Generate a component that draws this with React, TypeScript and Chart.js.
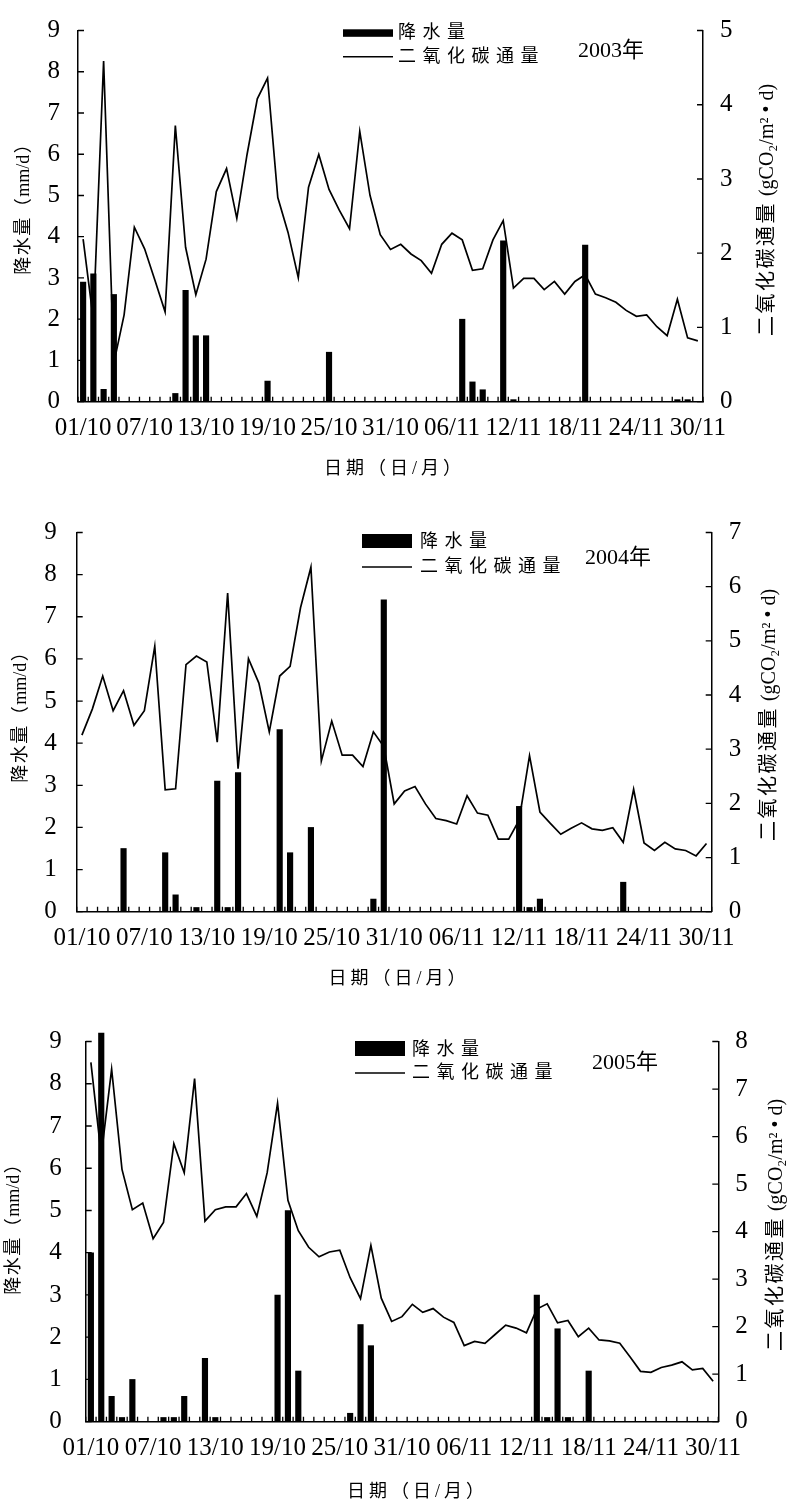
import React, { useEffect, useRef } from 'react';
import { Chart, registerables } from 'chart.js';

Chart.register(...registerables);

// ---------- categories ----------
const DAYS: string[] = [];
for (let d = 1; d <= 31; d++) DAYS.push(`${String(d).padStart(2, '0')}/10`);
for (let d = 1; d <= 30; d++) DAYS.push(`${String(d).padStart(2, '0')}/11`);

const TICK_LABELS = ['01/10', '07/10', '13/10', '19/10', '25/10', '31/10', '06/11', '12/11', '18/11', '24/11', '30/11'];

const RAIN_LABEL = '降水量';
const CO2_LABEL = '二氧化碳通量';
const X_TITLE = '日期（日/月）';
const Y_LEFT_TITLE = '降水量（mm/d）';
const Y_RIGHT_TITLE = '二氧化碳通量 (gCO₂/m² • d)';

// ---------- 2003 ----------
const RAIN_2003 = [
  2.9, 3.1, 0.3, 2.6, 0, 0, 0, 0, 0, 0.2,
  2.7, 1.6, 1.6, 0, 0, 0, 0, 0, 0.5, 0,
  0, 0, 0, 0, 1.2, 0, 0, 0, 0, 0,
  0, 0, 0, 0, 0, 0, 0, 2.0, 0.48, 0.29,
  0, 3.9, 0.05, 0, 0, 0, 0, 0, 0, 3.8,
  0, 0, 0, 0, 0, 0, 0, 0, 0.05, 0.05,
  0,
];
const CO2_2003 = [
  2.19, 1.1, 4.59, 0.52, 1.17, 2.35, 2.06, 1.64, 1.21, 3.72,
  2.08, 1.44, 1.92, 2.83, 3.14, 2.47, 3.33, 4.08, 4.36, 2.75,
  2.28, 1.67, 2.89, 3.33, 2.86, 2.58, 2.33, 3.64, 2.78, 2.25,
  2.05, 2.12, 1.99, 1.9, 1.73, 2.12, 2.27, 2.18, 1.77, 1.79,
  2.18, 2.44, 1.53, 1.66, 1.66, 1.51, 1.62, 1.45, 1.62, 1.71,
  1.45, 1.4, 1.34, 1.23, 1.15, 1.17, 1.01, 0.89, 1.38, 0.86,
  0.82,
];

// ---------- 2004 ----------
const RAIN_2004 = [
  0, 0, 0, 0, 1.5, 0, 0, 0, 1.4, 0.4,
  0, 0.1, 0, 3.1, 0.1, 3.3, 0, 0, 0, 4.32,
  1.4, 0, 2.0, 0, 0, 0, 0, 0, 0.3, 7.4,
  0, 0, 0, 0, 0, 0, 0, 0, 0, 0,
  0, 0, 2.5, 0.1, 0.3, 0, 0, 0, 0, 0,
  0, 0, 0.7, 0, 0, 0, 0, 0, 0, 0,
  0,
];
const CO2_2004 = [
  3.26, 3.74, 4.35, 3.71, 4.08, 3.44, 3.71, 4.9, 2.25, 2.27,
  4.56, 4.72, 4.61, 3.13, 5.88, 2.64, 4.67, 4.22, 3.32, 4.35,
  4.53, 5.61, 6.36, 2.78, 3.52, 2.89, 2.89, 2.68, 3.32, 3.05,
  1.99, 2.23, 2.31, 1.99, 1.72, 1.68, 1.62, 2.14, 1.82, 1.78,
  1.34, 1.34, 1.69, 2.88, 1.84, 1.63, 1.43, 1.54, 1.64, 1.53,
  1.5, 1.55, 1.28, 2.26, 1.27, 1.13, 1.28, 1.16, 1.13, 1.03,
  1.26,
];

// ---------- 2005 ----------
const RAIN_2005 = [
  4.0, 9.2, 0.6, 0.1, 1.0, 0, 0, 0.1, 0.1, 0.6,
  0, 1.5, 0.1, 0, 0, 0, 0, 0, 3.0, 5.0,
  1.2, 0, 0, 0, 0, 0.2, 2.3, 1.8, 0, 0,
  0, 0, 0, 0, 0, 0, 0, 0, 0, 0,
  0, 0, 0, 3.0, 0.1, 2.2, 0.1, 0, 1.2, 0,
  0, 0, 0, 0, 0, 0, 0, 0, 0, 0,
  0,
];
const CO2_2005 = [
  7.56, 5.6, 7.42, 5.31, 4.46, 4.6, 3.85, 4.19, 5.85, 5.24,
  7.22, 4.22, 4.46, 4.52, 4.52, 4.8, 4.32, 5.24, 6.7, 4.66,
  4.02, 3.67, 3.47, 3.57, 3.61, 3.03, 2.59, 3.71, 2.6, 2.11,
  2.21, 2.47, 2.3, 2.38, 2.2, 2.09, 1.6, 1.69, 1.65, 1.84,
  2.03, 1.97, 1.87, 2.37, 2.48, 2.08, 2.13, 1.79, 1.97, 1.72,
  1.7, 1.65, 1.36, 1.06, 1.04, 1.14, 1.19, 1.26, 1.09, 1.12,
  0.85,
];

const RAIN_MAX = 9;

// ---------- layout (page coordinates) ----------
type Panel = {
  year: string;
  rain: number[];
  co2: number[];
  co2Max: number;
  canvasTop: number;
  canvasHeight: number;
  area: { left: number; right: number; top: number; bottom: number };
  leftPad: number;
  rightPad: number;
  xPad: number;
  legend: { x: number; rectY: number; rectH: number; lineY: number; textX: number; rainY: number; co2Y: number };
  yearPos: { x: number; y: number };
  xTitle: { x: number; y: number };
  leftTitle: { x: number; y: number };
  rightTitle: { x: number; y: number };
};

const W = 797;
const SERIF = '"Liberation Serif", "Noto Sans CJK SC", serif';

const PANELS: Panel[] = [
  {
    year: '2003年', rain: RAIN_2003, co2: CO2_2003, co2Max: 5,
    canvasTop: 0, canvasHeight: 500,
    area: { left: 78, right: 703, top: 15.7, bottom: 401.7 },
    leftPad: 18, rightPad: 17, xPad: 14,
    legend: { x: 343, rectY: 29.3, rectH: 7.5, lineY: 56.7, textX: 398, rainY: 33, co2Y: 57 },
    yearPos: { x: 578, y: 51.7 },
    xTitle: { x: 392.5, y: 469 },
    leftTitle: { x: 24, y: 205 },
    rightTitle: { x: 768, y: 210 },
  },
  {
    year: '2004年', rain: RAIN_2004, co2: CO2_2004, co2Max: 7,
    canvasTop: 500, canvasHeight: 505,
    area: { left: 76.7, right: 711.7, top: 525, bottom: 911.7 },
    leftPad: 20, rightPad: 17, xPad: 14,
    legend: { x: 362, rectY: 534, rectH: 14, lineY: 567, textX: 420, rainY: 542, co2Y: 567 },
    yearPos: { x: 585, y: 558 },
    xTitle: { x: 397, y: 979 },
    leftTitle: { x: 21, y: 713 },
    rightTitle: { x: 770, y: 715 },
  },
  {
    year: '2005年', rain: RAIN_2005, co2: CO2_2005, co2Max: 8,
    canvasTop: 1005, canvasHeight: 503,
    area: { left: 85.7, right: 718.3, top: 1030, bottom: 1421.7 },
    leftPad: 24, rightPad: 17, xPad: 14,
    legend: { x: 355, rectY: 1041, rectH: 15, lineY: 1073, textX: 412, rainY: 1050, co2Y: 1073 },
    yearPos: { x: 592, y: 1063 },
    xTitle: { x: 415.5, y: 1492 },
    leftTitle: { x: 14, y: 1225 },
    rightTitle: { x: 777, y: 1225 },
  },
];

const isCJK = (c: string) => /[\u3000-\u9fff\uff00-\uffef]/.test(c);

// spacing is applied after CJK characters only; Latin runs stay compact
function drawSpaced(ctx: CanvasRenderingContext2D, text: string, x: number, y: number, spacing: number, align: 'left' | 'center') {
  const chars = Array.from(text);
  const widths = chars.map((c) => ctx.measureText(c).width);
  const gaps = chars.map((c, i) => (i < chars.length - 1 && (isCJK(c) || isCJK(chars[i + 1])) ? spacing : 0));
  const total = widths.reduce((a, b) => a + b, 0) + gaps.reduce((a, b) => a + b, 0);
  let cx = align === 'center' ? x - total / 2 : x;
  ctx.textAlign = 'left';
  chars.forEach((c, i) => {
    ctx.fillText(c, cx, y);
    cx += widths[i] + gaps[i];
  });
}

function makeDecor(p: Panel) {
  return {
    id: 'decor',
    afterDraw(chart: any) {
      const ctx: CanvasRenderingContext2D = chart.ctx;
      const { left, right, bottom } = chart.chartArea;
      const off = p.canvasTop;
      const yL = chart.scales.y;
      const yR = chart.scales.y2;
      const xs = chart.scales.x;
      ctx.save();
      ctx.strokeStyle = '#000';
      ctx.fillStyle = '#000';
      ctx.lineWidth = 1.3;
      ctx.beginPath();
      yL.ticks.forEach((t: any) => {
        const py = yL.getPixelForValue(t.value);
        ctx.moveTo(left, py);
        ctx.lineTo(left + 6, py);
      });
      yR.ticks.forEach((t: any) => {
        const py = yR.getPixelForValue(t.value);
        ctx.moveTo(right, py);
        ctx.lineTo(right - 6, py);
      });
      const step = xs.getPixelForValue(1) - xs.getPixelForValue(0);
      for (let i = 0; i <= DAYS.length; i++) {
        const px = xs.getPixelForValue(0) - step / 2 + i * step;
        ctx.moveTo(px, bottom);
        ctx.lineTo(px, bottom - 5);
      }
      ctx.stroke();

      // legend
      const lg = p.legend;
      ctx.fillRect(lg.x, lg.rectY - off, 50, lg.rectH);
      ctx.beginPath();
      ctx.lineWidth = 1.5;
      ctx.moveTo(lg.x, lg.lineY - off);
      ctx.lineTo(lg.x + 50, lg.lineY - off);
      ctx.stroke();
      ctx.textBaseline = 'middle';
      ctx.font = `18px ${SERIF}`;
      drawSpaced(ctx, RAIN_LABEL, lg.textX, lg.rainY - off, 6.5, 'left');
      drawSpaced(ctx, CO2_LABEL, lg.textX, lg.co2Y - off, 6.5, 'left');

      // year
      ctx.font = `22px ${SERIF}`;
      drawSpaced(ctx, p.year, p.yearPos.x, p.yearPos.y - off, 0, 'left');

      // x title
      ctx.font = `18px ${SERIF}`;
      drawSpaced(ctx, X_TITLE, p.xTitle.x, p.xTitle.y - off, 4, 'center');

      // left title
      ctx.save();
      ctx.translate(p.leftTitle.x, p.leftTitle.y - off);
      ctx.rotate(-Math.PI / 2);
      ctx.font = `18px ${SERIF}`;
      drawSpaced(ctx, Y_LEFT_TITLE, 0, 0, 1.5, 'center');
      ctx.restore();

      // right title
      ctx.save();
      ctx.translate(p.rightTitle.x, p.rightTitle.y - off);
      ctx.rotate(-Math.PI / 2);
      ctx.font = `20px ${SERIF}`;
      drawSpaced(ctx, Y_RIGHT_TITLE, 0, 0, 2.5, 'center');
      ctx.restore();

      ctx.restore();
    },
  };
}

function PanelChart({ p }: { p: Panel }) {
  const ref = useRef<HTMLCanvasElement | null>(null);
  useEffect(() => {
    if (!ref.current) return;
    const tickFont = { family: SERIF, size: 25, lineHeight: 1 };
    const chart = new Chart(ref.current, {
      type: 'bar',
      data: {
        labels: DAYS,
        datasets: [
          {
            type: 'line',
            label: CO2_LABEL,
            data: p.co2,
            yAxisID: 'y2',
            borderColor: '#000',
            borderWidth: 1.7,
            pointRadius: 0,
            tension: 0,
            fill: false,
            order: 1,
          } as any,
          {
            type: 'bar',
            label: RAIN_LABEL,
            data: p.rain,
            yAxisID: 'y',
            backgroundColor: '#000',
            barThickness: 5.5,
            clip: false,
            order: 2,
          } as any,
        ],
      },
      options: {
        responsive: false,
        animation: false,
        devicePixelRatio: 1,
        layout: { padding: { top: p.area.top - p.canvasTop, left: 0, right: 0, bottom: 0 } },
        plugins: { legend: { display: false }, tooltip: { enabled: false } },
        scales: {
          x: {
            type: 'category',
            offset: true,
            grid: { display: false, drawTicks: false },
            border: { display: true, color: '#000', width: 1.5 },
            ticks: {
              autoSkip: false,
              maxRotation: 0,
              minRotation: 0,
              padding: p.xPad,
              color: '#000',
              font: tickFont,
              callback: (_v: any, i: number) => (TICK_LABELS.includes(DAYS[i]) ? DAYS[i] : ''),
            },
            afterFit: (s: any) => {
              s.height = p.canvasHeight - (p.area.bottom - p.canvasTop);
            },
          },
          y: {
            position: 'left',
            min: 0,
            max: RAIN_MAX,
            grid: { display: false, drawTicks: false },
            border: { display: true, color: '#000', width: 1.5 },
            ticks: { stepSize: 1, padding: p.leftPad, color: '#000', font: tickFont },
            afterFit: (s: any) => {
              s.width = p.area.left;
            },
          },
          y2: {
            position: 'right',
            min: 0,
            max: p.co2Max,
            grid: { display: false, drawTicks: false },
            border: { display: true, color: '#000', width: 1.5 },
            ticks: { stepSize: 1, padding: p.rightPad, color: '#000', font: tickFont },
            afterFit: (s: any) => {
              s.width = W - p.area.right;
            },
          },
        },
      } as any,
      plugins: [makeDecor(p)],
    });
    return () => chart.destroy();
  }, [p]);
  return (
    <canvas
      ref={ref}
      width={W}
      height={p.canvasHeight}
      style={{ position: 'absolute', left: 0, top: p.canvasTop, width: W, height: p.canvasHeight }}
    />
  );
}

export default function App() {
  return (
    <div style={{ position: 'absolute', left: 0, top: 0, width: W, height: 1508, background: '#fff', overflow: 'hidden' }}>
      {PANELS.map((p) => (
        <PanelChart key={p.year} p={p} />
      ))}
    </div>
  );
}
